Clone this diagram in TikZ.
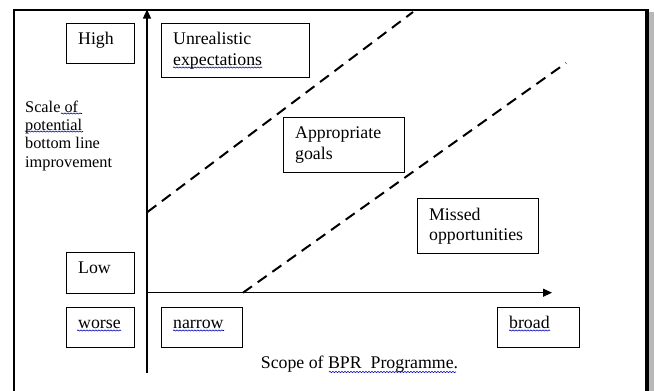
\documentclass[tikz,border=0pt]{standalone}
\usepackage{fontspec}
\setmainfont{Liberation Serif}
\usetikzlibrary{arrows.meta,decorations.pathmorphing}

\begin{document}
\begin{tikzpicture}[x=1pt,y=-1pt,
  axis/.style={line width=1.3pt,-{Triangle[length=9pt,width=8pt]}},
  boundary/.style={line width=2pt,dash pattern=on 11pt off 7pt},
  labelbox/.style={draw,line width=1.3pt,anchor=north west,inner xsep=11.5pt,
    inner ysep=0pt,align=left,font=\fontsize{17.8}{20.5}\selectfont},
  oneline/.style={labelbox,text height=6.5pt,text depth=5.5pt},
  squiggle/.style={draw=blue!70!black,line width=0.6pt,decorate,
    decoration={snake,amplitude=0.6pt,segment length=3pt}}]

  \useasboundingbox (0,0) rectangle (654,391);

  % page frame with its drop shadow on the right
  \fill[gray!55] (649.3,12) rectangle (654,395);
  \draw[line width=2.3pt] (647,10) -- (13.8,10) -- (13.8,395);
  \fill (644.8,8.85) rectangle (649.3,395);

  % axes
  \coordinate (ybottom) at (147,372.7);
  \coordinate (ytop)    at (147,9.5);
  \coordinate (origin)  at (147,292.7);
  \coordinate (xend)    at (552,292.7);
  \draw[axis] (ybottom) -- (ytop);
  \draw[axis] (origin) -- (xend);

  % boundaries between the three regions
  \coordinate (upperstart) at (147.5,212);
  \coordinate (upperend)   at (413,12);
  \coordinate (lowerstart) at (243,292.7);
  \coordinate (lowerend)   at (566,63);
  \draw[boundary] (upperstart) -- (upperend);
  \draw[boundary] (lowerstart) -- (lowerend);

  % region labels
  \node[labelbox,text width=148pt-23pt,minimum height=54pt] (unreal) at (161,23)
    {Unrealistic\\expectations};
  \node[labelbox,text width=121pt-23pt,minimum height=55pt] (approp) at (283,117)
    {Appropriate\\goals};
  \node[labelbox,text width=121pt-23pt,minimum height=55pt] (missed) at (417,198)
    {Missed\\opportunities};

  % scale labels
  \node[oneline,text width=68pt-23pt,minimum height=40pt] (high)   at (66,23)  {High};
  \node[oneline,text width=68pt-23pt,minimum height=41pt] (low)    at (66,252) {Low};
  \node[oneline,text width=68pt-23pt,minimum height=40pt] (worse)  at (66,307) {worse};
  \node[oneline,text width=81pt-23pt,minimum height=40pt] (narrow) at (161,307) {narrow};
  \node[oneline,text width=82pt-23pt,minimum height=40pt] (broad)  at (497,307) {broad};

  % axis titles
  \node[anchor=north west,inner sep=0pt,align=left,
        font=\fontsize{16.3}{18.3}\selectfont] (ytitle) at (25,100.6)
    {Scale of\\potential\\bottom line\\improvement};
  \node[anchor=base,inner sep=0pt,font=\fontsize{17.8}{20.5}\selectfont] (xtitle)
    at (359.5,368.5) {Scope of BPR\ \ Programme.};

  % spell-check underlines
  \draw[squiggle] (61,113.5) -- (82,113.5);
  \draw[squiggle] (25,131.5) -- (83,131.5);
  \draw[squiggle] (173,67.5) -- (262,67.5);
  \draw[squiggle] (77,330.5) -- (121,330.5);
  \draw[squiggle] (173,330.5) -- (224,330.5);
  \draw[squiggle] (509,330.5) -- (550,330.5);
  \draw[squiggle] (329,372) -- (456,372);
\end{tikzpicture}
\end{document}
